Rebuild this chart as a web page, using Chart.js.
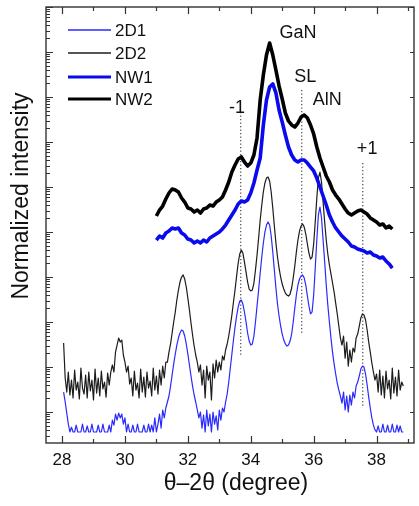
<!DOCTYPE html>
<html>
<head>
<meta charset="utf-8">
<script src="https://cdn.jsdelivr.net/npm/chart.js@4.4.1/dist/chart.umd.min.js"></script>
<style>
  html, body { margin: 0; padding: 0; background: #fff; }
  #wrap { position: relative; width: 419px; height: 506px; }
</style>
</head>
<body>
<div id="wrap"><canvas id="xrd" width="419" height="506"></canvas></div>
<script>
// 2theta grid of the two 2D scans (degree)
const angle2D = [
  28.05, 28.10, 28.15, 28.20, 28.25, 28.30, 28.35, 28.40, 28.45, 28.50,
  28.55, 28.60, 28.65, 28.70, 28.75, 28.80, 28.85, 28.90, 28.95, 29.00,
  29.05, 29.10, 29.15, 29.20, 29.25, 29.30, 29.35, 29.40, 29.45, 29.50,
  29.55, 29.60, 29.65, 29.70, 29.75, 29.80, 29.85, 29.90, 29.95, 30.00,
  30.05, 30.10, 30.15, 30.20, 30.25, 30.30, 30.35, 30.40, 30.45, 30.50,
  30.55, 30.60, 30.65, 30.70, 30.75, 30.80, 30.85, 30.90, 30.95, 31.00,
  31.05, 31.10, 31.15, 31.20, 31.25, 31.30, 31.35, 31.40, 31.45, 31.50,
  31.55, 31.60, 31.65, 31.70, 31.75, 31.80, 31.85, 31.90, 31.95, 32.00,
  32.05, 32.10, 32.15, 32.20, 32.25, 32.30, 32.35, 32.40, 32.45, 32.50,
  32.55, 32.60, 32.65, 32.70, 32.75, 32.80, 32.85, 32.90, 32.95, 33.00,
  33.05, 33.10, 33.15, 33.20, 33.25, 33.30, 33.35, 33.40, 33.45, 33.50,
  33.55, 33.60, 33.65, 33.70, 33.75, 33.80, 33.85, 33.90, 33.95, 34.00,
  34.05, 34.10, 34.15, 34.20, 34.25, 34.30, 34.35, 34.40, 34.45, 34.50,
  34.55, 34.60, 34.65, 34.70, 34.75, 34.80, 34.85, 34.90, 34.95, 35.00,
  35.05, 35.10, 35.15, 35.20, 35.25, 35.30, 35.35, 35.40, 35.45, 35.50,
  35.55, 35.60, 35.65, 35.70, 35.75, 35.80, 35.85, 35.90, 35.95, 36.00,
  36.05, 36.10, 36.15, 36.20, 36.25, 36.30, 36.35, 36.40, 36.45, 36.50,
  36.55, 36.60, 36.65, 36.70, 36.75, 36.80, 36.85, 36.90, 36.95, 37.00,
  37.05, 37.10, 37.15, 37.20, 37.25, 37.30, 37.35, 37.40, 37.45, 37.50,
  37.55, 37.60, 37.65, 37.70, 37.75, 37.80, 37.85, 37.90, 37.95, 38.00,
  38.05, 38.10, 38.15, 38.20, 38.25, 38.30, 38.35, 38.40, 38.45, 38.50,
  38.55, 38.60, 38.65, 38.70, 38.75, 38.80, 38.85
];

const int2D1 = [
  2.78, 1.67, 0.95, 0.54, 0.36, 0.46, 0.36, 0.36, 0.51, 0.36,
  0.36, 0.36, 0.54, 0.36, 0.36, 0.49, 0.36, 0.36, 0.54, 0.36,
  0.36, 0.36, 0.51, 0.36, 0.36, 0.54, 0.36, 0.36, 0.36, 0.51,
  0.36, 0.66, 0.51, 0.90, 0.66, 0.95, 0.74, 0.90, 0.54, 0.74,
  0.36, 0.54, 0.36, 0.36, 0.51, 0.36, 0.36, 0.54, 0.36, 0.36,
  0.36, 0.51, 0.36, 0.36, 0.54, 0.36, 0.51, 0.36, 0.74, 0.36,
  0.54, 0.90, 0.44, 1.11, 0.74, 1.23, 1.67, 2.27, 3.78, 6.64,
  11.7, 19.5, 30.8, 44.1, 57.0, 66.4, 63.1, 48.9, 32.5, 19.5,
  11.1, 6.31, 3.78, 2.39, 1.67, 1.11, 0.74, 1.00, 0.44, 0.86,
  0.36, 1.11, 0.49, 0.90, 0.36, 1.00, 0.54, 0.82, 0.40, 1.11,
  0.66, 1.23, 1.00, 1.67, 2.51, 4.64, 9.50, 19.5, 39.8, 77.4,
  136, 215, 293, 308, 251, 167, 100, 57.0, 37.8, 30.8,
  32.5, 48.9, 100, 227, 514, 1230, 2780, 5700, 10000, 14300,
  16700, 14300, 8150, 3590, 1430, 570, 251, 136, 81.5, 54.1,
  39.8, 32.5, 29.3, 30.8, 37.8, 54.1, 100, 205, 398, 664,
  903, 1050, 1110, 950, 664, 378, 227, 151, 167, 398,
  1580, 6640, 23900, 35900, 20500, 6640, 2150, 664, 239, 100,
  44.1, 21.5, 11.7, 6.99, 4.41, 3.08, 2.27, 1.58, 2.78, 1.11,
  2.27, 1.00, 2.39, 1.43, 2.78, 2.05, 3.78, 4.64, 6.31, 9.03,
  10.5, 10.0, 6.99, 3.98, 2.15, 1.23, 0.74, 0.51, 0.40, 0.36,
  0.49, 0.36, 0.36, 0.54, 0.36, 0.36, 0.51, 0.36, 0.36, 0.54,
  0.36, 0.36, 0.51, 0.36, 0.49, 0.36, 0.36
];

const int2D2 = [
  34.1, 5.70, 2.78, 7.74, 2.39, 5.14, 2.05, 8.58, 3.08, 4.64,
  1.95, 9.50, 3.41, 2.51, 6.64, 2.05, 7.74, 2.93, 5.14, 1.85,
  9.03, 2.64, 5.70, 2.27, 8.15, 3.25, 4.64, 2.15, 7.36, 3.98,
  7.74, 11.1, 7.74, 21.5, 30.8, 44.1, 35.9, 39.8, 18.5, 12.9,
  7.74, 10.5, 4.19, 5.70, 2.27, 8.15, 3.08, 4.41, 2.05, 9.03,
  2.78, 6.00, 2.15, 7.74, 3.41, 4.89, 2.27, 9.50, 3.08, 6.31,
  2.51, 8.58, 3.98, 10.5, 5.70, 12.9, 12.9, 21.5, 32.5, 57.0,
  100, 167, 308, 514, 774, 1000, 1110, 903, 600, 341,
  185, 95.0, 51.4, 29.3, 18.5, 12.9, 7.74, 11.1, 3.98, 8.58,
  2.05, 10.5, 5.14, 7.74, 1.85, 11.7, 5.70, 14.3, 7.74, 12.9,
  8.58, 17.6, 14.3, 23.9, 32.5, 48.9, 81.5, 143, 278, 514,
  1050, 2050, 3250, 3980, 3410, 2150, 1290, 774, 541, 489,
  514, 736, 1430, 3080, 7360, 18500, 39800, 77400, 123000, 158000,
  167000, 136000, 77400, 34100, 13600, 5700, 2780, 1580, 1000, 699,
  541, 441, 398, 378, 419, 570, 950, 1760, 3590, 6640,
  10500, 13600, 15100, 12900, 9030, 5410, 3410, 2510, 2780, 5410,
  16700, 57000, 158000, 215000, 129000, 46400, 16700, 6640, 3250, 1850,
  1170, 736, 464, 264, 151, 81.5, 44.1, 30.8, 48.9, 15.8,
  35.9, 10.5, 23.9, 12.9, 26.4, 21.5, 44.1, 54.1, 81.5, 123,
  151, 143, 111, 66.4, 35.9, 21.5, 12.3, 7.74, 5.14, 6.99,
  2.78, 8.58, 2.39, 6.31, 2.05, 8.15, 3.25, 5.14, 1.95, 9.50,
  2.64, 6.00, 2.27, 8.58, 3.08, 4.64, 3.78
];

// 2theta grid of the nanowire scans
const angleNW = [
  31.0, 31.1, 31.2, 31.3, 31.4, 31.5, 31.6, 31.7, 31.8, 31.9,
  32.0, 32.1, 32.2, 32.3, 32.4, 32.5, 32.6, 32.7, 32.8, 32.9,
  33.0, 33.1, 33.2, 33.3, 33.4, 33.5, 33.6, 33.7, 33.8, 33.9,
  34.0, 34.1, 34.2, 34.3, 34.4, 34.5, 34.6, 34.7, 34.8, 34.9,
  35.0, 35.1, 35.2, 35.3, 35.4, 35.5, 35.6, 35.7, 35.8, 35.9,
  36.0, 36.1, 36.2, 36.3, 36.4, 36.5, 36.6, 36.7, 36.8, 36.9,
  37.0, 37.1, 37.2, 37.3, 37.4, 37.5, 37.6, 37.7, 37.8, 37.9,
  38.0, 38.1, 38.2, 38.3, 38.4, 38.5
];

const intNW1 = [
  6640, 8150, 7360, 9500, 10500, 12300, 11700, 12300, 9500, 8580,
  6990, 6640, 5700, 6310, 5700, 6640, 6000, 7360, 8150, 9030,
  10000, 11700, 14300, 18500, 23900, 30800, 41900, 48900, 46400, 51400,
  73600, 123000, 239000, 441000, 2390000, 8580000, 16700000, 19500000, 12300000, 5140000,
  2780000, 1430000, 774000, 514000, 398000, 359000, 398000, 398000, 341000, 278000,
  227000, 158000, 100000, 63100, 39800, 23900, 16700, 12300, 10000, 8150,
  6990, 6000, 4890, 4640, 4190, 3980, 3780, 3410, 3590, 3080,
  2930, 2640, 2780, 2270, 1950, 1580
];

const intNW2 = [
  22700, 30800, 37800, 54100, 73600, 90300, 85800, 77400, 57000, 46400,
  34100, 32500, 27800, 30800, 26400, 32500, 34100, 39800, 37800, 46400,
  51400, 60000, 85800, 129000, 215000, 308000, 419000, 464000, 359000, 293000,
  341000, 514000, 1230000, 8580000, 30800000, 85800000, 158000000, 85800000, 39800000, 17600000,
  9030000, 4410000, 2930000, 2390000, 2150000, 2640000, 3590000, 3980000, 3410000, 2390000,
  1510000, 774000, 441000, 278000, 176000, 129000, 85800, 66400, 54100, 41900,
  32500, 26400, 23900, 26400, 29300, 30800, 27800, 25100, 20500, 18500,
  16700, 14300, 15100, 12300, 13600, 11700
];

// dotted reference lines (-1, SL, +1): angle and the intensity span they cover
const refAngles = [33.68, 35.62, 37.56];
const refTop = [4.64e6, 1.43e7, 3.41e5];
const refBottom = [18.5, 51.4, 1.23];

// axis ticks
const xTickLabels = [28, 30, 32, 34, 36, 38];
const xMinorTicks = [29, 31, 33, 35, 37, 39];

const seriesNames = ['2D1', '2D2', 'NW1', 'NW2'];
const seriesColors = ['#2a2aff', '#1c1c1c', '#0a0aee', '#000000'];
const seriesWidths = [1.2, 1.2, 3.6, 3.6];

// peak labels and where they sit (angle, intensity)
const peakLabels = ['GaN', 'SL', 'AlN', '-1', '+1'];
const peakLabelPlace = [[35.50, 2.7e8], [35.73, 2.8e7], [36.43, 8.5e6], [33.56, 5.7e6], [37.70, 6.9e5]];

const FONT = "'Liberation Sans', Arial, Helvetica, sans-serif";

function pairs(xs, ys) {
    return xs.map((a, i) => ({ x: a, y: ys[i] }));
}

const datasets = [];
const curves = [[angle2D, int2D1], [angle2D, int2D2], [angleNW, intNW1], [angleNW, intNW2]];
const drawOrder = [4, 3, 2, 1]; // NW curves on top
curves.forEach((c, i) => {
    datasets.push({
        label: seriesNames[i],
        data: pairs(c[0], c[1]),
        borderColor: seriesColors[i],
        borderWidth: seriesWidths[i],
        pointRadius: 0,
        fill: false,
        tension: 0,
        borderJoinStyle: 'round',
        order: drawOrder[i]
    });
});

refAngles.forEach((a, i) => {
    datasets.push({
        label: 'ref' + i,
        data: [{ x: a, y: refTop[i] }, { x: a, y: refBottom[i] }],
        borderColor: '#555',
        borderWidth: 1.3,
        borderDash: [1.3, 2.2],
        pointRadius: 0,
        fill: false,
        order: 10
    });
});

// Frame, ticks, labels, legend and annotations
const framePlugin = {
    id: 'frame',
    afterDatasetsDraw(chart) {
        const { ctx, chartArea: a, scales } = chart;
        const x = scales.x, y = scales.y;
        ctx.save();
        ctx.strokeStyle = '#333';
        ctx.lineWidth = 1.4;
        ctx.strokeRect(a.left, a.top, a.right - a.left, a.bottom - a.top);

        // x ticks, bottom and top, pointing inward
        ctx.lineWidth = 1.2;
        ctx.beginPath();
        xTickLabels.forEach(v => {
            const px = Math.round(x.getPixelForValue(v)) + 0.5;
            ctx.moveTo(px, a.bottom); ctx.lineTo(px, a.bottom - 7);
            ctx.moveTo(px, a.top); ctx.lineTo(px, a.top + 7);
        });
        xMinorTicks.forEach(v => {
            const px = Math.round(x.getPixelForValue(v)) + 0.5;
            if (px > a.right) return;
            ctx.moveTo(px, a.bottom); ctx.lineTo(px, a.bottom - 4);
            ctx.moveTo(px, a.top); ctx.lineTo(px, a.top + 4);
        });
        ctx.stroke();

        // y ticks: decades long, 2..9 short (left), decades only on right
        ctx.lineWidth = 1;
        ctx.beginPath();
        for (let e = -1; e <= 9; e++) {
            for (let m = 1; m <= 9; m++) {
                const v = m * Math.pow(10, e);
                if (v < y.min || v > y.max) continue;
                const py = Math.round(y.getPixelForValue(v)) + 0.5;
                const len = m === 1 ? 7 : 4;
                ctx.moveTo(a.left, py); ctx.lineTo(a.left + len, py);
                if (m === 1) { ctx.moveTo(a.right, py); ctx.lineTo(a.right - 4, py); }
            }
        }
        ctx.stroke();

        // tick labels
        ctx.fillStyle = '#111';
        ctx.font = '17px ' + FONT;
        ctx.textAlign = 'center';
        ctx.textBaseline = 'middle';
        xTickLabels.forEach(v => {
            ctx.fillText(String(v), x.getPixelForValue(v), 460);
        });

        // axis titles
        ctx.font = '23px ' + FONT;
        ctx.fillText('\u03b8\u20132\u03b8 (degree)', 236, 484);
        ctx.save();
        ctx.translate(22, 196);
        ctx.rotate(-Math.PI / 2);
        ctx.fillText('Normalized intensity', 0, 0);
        ctx.restore();

        // peak labels
        ctx.font = '18px ' + FONT;
        peakLabels.forEach((t, i) => {
            const p = peakLabelPlace[i];
            ctx.fillText(t, x.getPixelForValue(p[0]), y.getPixelForValue(p[1]));
        });

        // legend
        const rows = [30, 53, 77, 99];
        ctx.textAlign = 'left';
        ctx.font = '17px ' + FONT;
        seriesNames.forEach((n, i) => {
            ctx.strokeStyle = seriesColors[i];
            ctx.lineWidth = seriesWidths[i] === 1.2 ? 1.3 : 3.2;
            ctx.beginPath();
            ctx.moveTo(68, rows[i]); ctx.lineTo(111, rows[i]);
            ctx.stroke();
            ctx.fillText(n, 115, rows[i] + 1);
        });
        ctx.restore();
    }
};

new Chart(document.getElementById('xrd'), {
    type: 'line',
    data: { datasets: datasets },
    options: {
        responsive: false,
        animation: false,
        layout: { padding: { left: 46, right: 5, top: 7, bottom: 63 } },
        scales: {
            x: { type: 'linear', min: 27.49, max: 39.19, display: false },
            y: { type: 'logarithmic', min: 0.205, max: 1e9, display: false }
        },
        plugins: {
            legend: { display: false },
            tooltip: { enabled: false }
        }
    },
    plugins: [framePlugin]
});
</script>
</body>
</html>
